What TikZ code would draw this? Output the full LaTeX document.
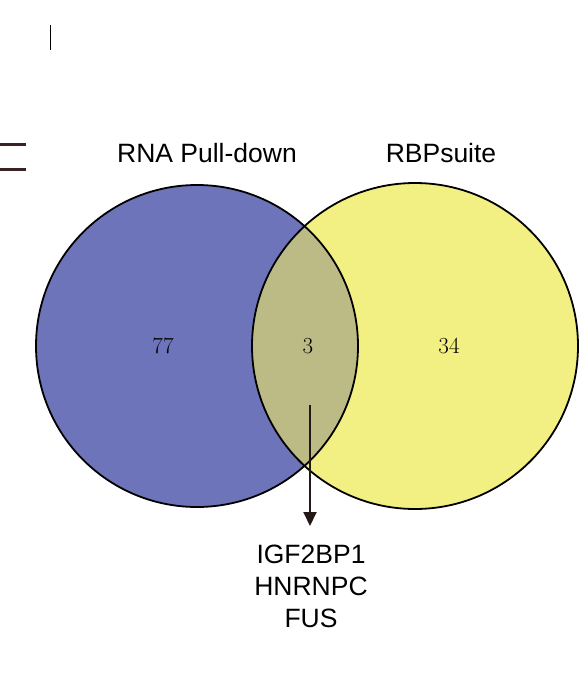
\documentclass[tikz,border=0pt]{standalone}
\usepackage{fontspec}
\usetikzlibrary{arrows.meta}
\newfontfamily\arialfont{Liberation Sans}
\definecolor{vblue}{HTML}{6E74B9}
\definecolor{vyellow}{HTML}{F2F082}
\definecolor{vlens}{HTML}{BCBB85}
\definecolor{darkline}{HTML}{231815}
\definecolor{brownmark}{HTML}{3A2222}
\tikzset{
  lab/.style={font=\arialfont\fontsize{26.5}{32}\selectfont, text=black, inner sep=0pt, align=center},
  num/.style={font=\fontsize{23}{26}\selectfont, text=black, inner sep=0pt},
  ring/.style={draw=black, line width=1.8pt},
  pointer/.style={draw=darkline, line width=2pt, -{Triangle[length=14pt,width=13pt]}},
  straybar/.style={draw=brownmark, line width=3pt}
}
\begin{document}
\begin{tikzpicture}[x=1pt,y=-1pt]
\useasboundingbox (0,0) rectangle (581,673);
% stray marks
\coordinate (m1a) at (0,144); \coordinate (m1b) at (26,144);
\coordinate (m2a) at (0,169); \coordinate (m2b) at (26,169);
\draw[straybar] (m1a) -- (m1b);
\draw[straybar] (m2a) -- (m2b);
\coordinate (t1) at (50.5,25); \coordinate (t2) at (50.5,38); \coordinate (t3) at (50.5,50);
\draw[black, line width=0.5pt] (t1) -- (t2);
\draw[black, line width=1.8pt] (t2) -- (t3);
% circles
\coordinate (cL) at (197,346);
\coordinate (cR) at (415,346);
\fill[vblue] (cL) circle (161);
\fill[vyellow] (cR) circle (163);
\begin{scope}
  \clip (cL) circle (161);
  \fill[vlens] (cR) circle (163);
\end{scope}
\draw[ring] (cL) circle (161);
\draw[ring] (cR) circle (163);
% numbers
\node[num] (n77) at (163,346) {77};
\node[num] (n3) at (308,346) {3};
\node[num] (n34) at (449,346) {34};
% labels
\node[lab] (l1) at (207,153) {RNA Pull-down};
\node[lab] (l2) at (441,153) {RBPsuite};
\node[lab] (genes) at (311,586) {IGF2BP1\\HNRNPC\\FUS};
% arrow
\coordinate (a0) at (310,405);
\coordinate (a1) at (310,526);
\draw[pointer] (a0) -- (a1);
\end{tikzpicture}
\end{document}
